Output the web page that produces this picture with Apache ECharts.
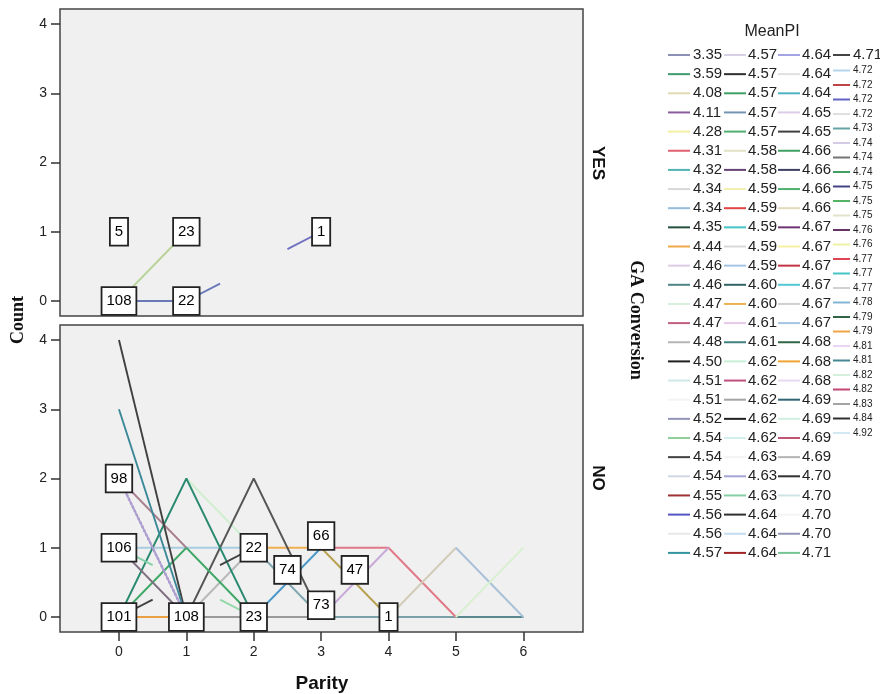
<!DOCTYPE html>
<html>
<head>
<meta charset="utf-8">
<script src="https://cdn.jsdelivr.net/npm/echarts@6/dist/echarts.min.js"></script>
<style>
  html, body { margin: 0; padding: 0; background: #fff; }
  #chart { width: 880px; height: 694px; }
</style>
</head>
<body>
<div id="chart"></div>
<script>
// axis ticks
const parityTicks = [0, 1, 2, 3, 4, 5, 6];
const countTicks = [0, 1, 2, 3, 4];

// GA Conversion = YES : [parity, count] paths
const yesPaths = [
    [[0, 0], [1, 1]],
    [[0, 0], [1, 0], [1.5, 0.25]],
    [[2.5, 0.75], [3, 1]]
];
const yesColors = ['#b8d498', '#6878b8', '#7070c0'];

// GA Conversion = NO : [parity, count] paths
const noPaths = [
    [[0, 1], [2, 1]],
    [[0, 0], [1, 0]],
    [[1, 0], [4, 0]],
    [[3, 0], [6, 0]],
    [[5, 0], [6, 0]],
    [[2, 1], [3, 1]],
    [[3, 1], [4, 1], [5, 0]],
    [[3, 1], [4, 0]],
    [[3, 0], [4, 1]],
    [[2, 0], [3, 1]],
    [[2, 1], [3, 0]],
    [[4, 0], [5, 1]],
    [[5, 1], [6, 0]],
    [[5, 0], [6, 1]],
    [[1, 2], [2, 1]],
    [[1, 0], [2, 1]],
    [[1, 0], [2, 2], [3, 0]],
    [[0, 0], [1, 1], [2, 0]],
    [[0, 0], [1, 2], [2, 0]],
    [[0, 2], [1, 1]],
    [[0, 2], [1, 0]],
    [[0, 2], [1, 0]],
    [[0, 1], [1, 0]],
    [[0, 4], [1, 0]],
    [[0, 3], [1, 0]],
    [[0, 1], [0.5, 0.75]],
    [[0, 0], [0.5, 0.25]],
    [[1.5, 0.25], [2, 0]],
    [[1.5, 0.75], [2, 1]]
];
const noColors = [
    '#a8cce0', '#e8a040', '#9a9a9a', '#7aa0a8', '#5a8890', '#f0b050',
    '#e07888', '#b8a050', '#c8a8d8', '#4a98c8', '#80a8b0', '#d0ccb8',
    '#a8c0d8', '#d8f0d0', '#d0eed0', '#b8b8b8', '#555555', '#40a868',
    '#2a8a70', '#a88090', '#8070c0', '#b0a0d0', '#807080', '#404040',
    '#3a8898', '#80d0a8', '#404040', '#90d8a8', '#404040'
];

// case labels: [parity, count, text]
const yesLabels = [[0, 1, '5'], [1, 1, '23'], [3, 1, '1'], [0, 0, '108'], [1, 0, '22']];
const noLabels = [
    [0, 2, '98'], [0, 1, '106'], [0, 0, '101'], [1, 0, '108'], [2, 1, '22'],
    [2, 0, '23'], [2.5, 0.68, '74'], [3, 1.17, '66'], [3, 0.17, '73'],
    [3.5, 0.68, '47'], [4, 0, '1']
];

// legend (MeanPI), four columns of 27
const meanPI = [
    '3.35', '3.59', '4.08', '4.11', '4.28', '4.31', '4.32', '4.34', '4.34', '4.35', '4.44', '4.46', '4.46', '4.47',
    '4.47', '4.48', '4.50', '4.51', '4.51', '4.52', '4.54', '4.54', '4.54', '4.55', '4.56', '4.56', '4.57',
    '4.57', '4.57', '4.57', '4.57', '4.57', '4.58', '4.58', '4.59', '4.59', '4.59', '4.59', '4.59', '4.60', '4.60',
    '4.61', '4.61', '4.62', '4.62', '4.62', '4.62', '4.62', '4.63', '4.63', '4.63', '4.64', '4.64', '4.64',
    '4.64', '4.64', '4.64', '4.65', '4.65', '4.66', '4.66', '4.66', '4.66', '4.67', '4.67', '4.67', '4.67', '4.67',
    '4.67', '4.68', '4.68', '4.68', '4.69', '4.69', '4.69', '4.69', '4.70', '4.70', '4.70', '4.70', '4.71',
    '4.71', '4.72', '4.72', '4.72', '4.72', '4.73', '4.74', '4.74', '4.74', '4.75', '4.75', '4.75', '4.76', '4.76',
    '4.77', '4.77', '4.77', '4.78', '4.79', '4.79', '4.81', '4.81', '4.82', '4.82', '4.83', '4.84', '4.92'
];
const meanPIColors = [
    '#8c90b4', '#3c9a6c', '#e2dab4', '#8a5c9c', '#f2f0a0', '#e06070', '#50b4b4', '#d8d8d8', '#94bcdc',
    '#24503e', '#f0a848', '#dccce4', '#4e8488', '#d8f0dc', '#c0607e', '#b4b4b4', '#202020', '#d0e8e8',
    '#f4f4f4', '#9294ba', '#90d098', '#404040', '#d0d8e4', '#a03434', '#5454c4', '#e8e8e8', '#3494a4',
    '#d8d0e4', '#303030', '#40a064', '#7494b4', '#50b070', '#e2e2c4', '#644474', '#f2f0b0', '#e04444',
    '#44c4c4', '#d8d8d8', '#a4c4e4', '#306464', '#f0b050', '#e8c8e8', '#408080', '#c8f0d8', '#c05080',
    '#a4a4a4', '#202020', '#d0f0f0', '#f4f4f4', '#a4a4d4', '#84d0a4', '#303030', '#c4dcf0', '#a02424',
    '#a4a4e4', '#e0e0e0', '#50b4c4', '#dccce8', '#404040', '#40a064', '#404064', '#50b070', '#e2dabc',
    '#703474', '#f6f0a4', '#c43444', '#54c8d0', '#d0d0d0', '#a4c4e4', '#306444', '#f0a434', '#e8d8f0',
    '#306474', '#d0f0e0', '#c05474', '#b4b4b4', '#303030', '#d0e4e4', '#f4f4f4', '#9494b4', '#74c494',
    '#444444', '#b4d4ec', '#c04444', '#6464c4', '#e0e0e0', '#64a4a4', '#d4cce4', '#747474', '#40a064',
    '#444484', '#54b464', '#e2e2cc', '#643464', '#f0f0a4', '#e04454', '#44c4c4', '#d0d0d0', '#84b4d4',
    '#306444', '#f0a444', '#ecd4f4', '#448894', '#d4f0dc', '#c44474', '#a4a4a4', '#303030', '#d4e8f4'
];

const SANS = '"Liberation Sans", Arial, sans-serif';
const SERIF = '"Liberation Serif", "Times New Roman", serif';

const chart = echarts.init(document.getElementById('chart'), null, { renderer: 'canvas' });

const makeLines = (paths, colors, idx) => paths.map((p, i) => ({
    type: 'line',
    xAxisIndex: idx,
    yAxisIndex: idx,
    data: p,
    symbol: 'none',
    silent: true,
    z: 2,
    lineStyle: {
        color: colors[i],
        width: i === 20 && idx === 1 ? 2.2 : 1.9,
        type: i === 20 && idx === 1 ? 'dotted' : 'solid'
    }
}));

// scatter defaults to opacity 0.8, which the label inherits, so force 1
const makeLabels = (labels, idx) => ({
    type: 'scatter',
    xAxisIndex: idx,
    yAxisIndex: idx,
    data: labels,
    symbolSize: 1,
    itemStyle: { color: 'rgba(0,0,0,0)', opacity: 1 },
    silent: true,
    z: 10,
    label: {
        show: true,
        position: 'inside',
        formatter: p => p.value[2],
        fontFamily: SANS,
        fontSize: 15,
        lineHeight: 16,
        color: '#000',
        backgroundColor: '#ffffff',
        borderColor: '#222',
        borderWidth: 1.8,
        padding: [5, 4]
    }
});

const xAxisBase = {
    type: 'value',
    min: -0.875,
    max: 6.886,
    axisLine: { show: false, onZero: false },
    splitLine: { show: false }
};
const yAxisBase = {
    type: 'value',
    min: -0.217,
    max: 4.217,
    axisLine: { show: false, onZero: false },
    splitLine: { show: false },
    axisTick: { show: true, length: 9, customValues: countTicks, lineStyle: { color: '#333', width: 1.5 } },
    axisLabel: { customValues: countTicks, fontFamily: SANS, fontSize: 14, color: '#222', margin: 13 }
};

// legend graphics
const legendItems = [];
legendItems.push({
    type: 'text', x: 772, y: 32,
    style: { text: 'MeanPI', font: '16px ' + SANS, fill: '#222', textAlign: 'center', textVerticalAlign: 'middle' }
});
const colLine = [668, 724, 778, 833];
const colText = [693, 748, 802, 853];
meanPI.forEach((lab, i) => {
    const col = Math.floor(i / 27);
    const row = i % 27;
    const small = col === 3 && row > 0;
    const y = small ? 433 - (26 - row) * 14.5 : 55 + row * 19.15;
    const x1 = colLine[col];
    const x2 = col === 3 ? 850 : x1 + 22;
    legendItems.push({
        type: 'line',
        shape: { x1: x1, y1: y, x2: x2, y2: y },
        style: { stroke: meanPIColors[i], lineWidth: 2 }
    });
    legendItems.push({
        type: 'text', x: colText[col], y: y,
        style: { text: lab, font: (small ? '10px ' : '15px ') + SANS, fill: '#222', textVerticalAlign: 'middle' }
    });
});

chart.setOption({
    animation: false,
    backgroundColor: '#fff',
    grid: [
        { left: 60, top: 9, width: 523, height: 307, show: true, backgroundColor: '#f0f0f0', borderColor: '#444', borderWidth: 1.5 },
        { left: 60, top: 325, width: 523, height: 307, show: true, backgroundColor: '#f0f0f0', borderColor: '#444', borderWidth: 1.5 }
    ],
    xAxis: [
        Object.assign({ gridIndex: 0, axisTick: { show: false }, axisLabel: { show: false } }, xAxisBase),
        Object.assign({
            gridIndex: 1,
            axisTick: { show: true, length: 9, customValues: parityTicks, lineStyle: { color: '#333', width: 1.5 } },
            axisLabel: { customValues: parityTicks, fontFamily: SANS, fontSize: 14, color: '#222', margin: 13 }
        }, xAxisBase)
    ],
    yAxis: [
        Object.assign({ gridIndex: 0 }, yAxisBase),
        Object.assign({ gridIndex: 1 }, yAxisBase)
    ],
    graphic: [
        { type: 'text', x: 18, y: 320, rotation: Math.PI / 2,
          style: { text: 'Count', font: 'bold 18px ' + SERIF, fill: '#111', textAlign: 'center', textVerticalAlign: 'middle' } },
        { type: 'text', x: 322, y: 684,
          style: { text: 'Parity', font: 'bold 19px ' + SANS, fill: '#111', textAlign: 'center', textVerticalAlign: 'middle' } },
        { type: 'text', x: 598, y: 163, rotation: -Math.PI / 2,
          style: { text: 'YES', font: 'bold 17px ' + SANS, fill: '#111', textAlign: 'center', textVerticalAlign: 'middle' } },
        { type: 'text', x: 598, y: 478, rotation: -Math.PI / 2,
          style: { text: 'NO', font: 'bold 17px ' + SANS, fill: '#111', textAlign: 'center', textVerticalAlign: 'middle' } },
        { type: 'text', x: 636, y: 320, rotation: -Math.PI / 2,
          style: { text: 'GA Conversion', font: 'bold 18px ' + SERIF, fill: '#111', textAlign: 'center', textVerticalAlign: 'middle' } }
    ].concat(legendItems),
    series: [].concat(
        makeLines(yesPaths, yesColors, 0),
        makeLines(noPaths, noColors, 1),
        [makeLabels(yesLabels, 0), makeLabels(noLabels, 1)]
    )
});
</script>
</body>
</html>
